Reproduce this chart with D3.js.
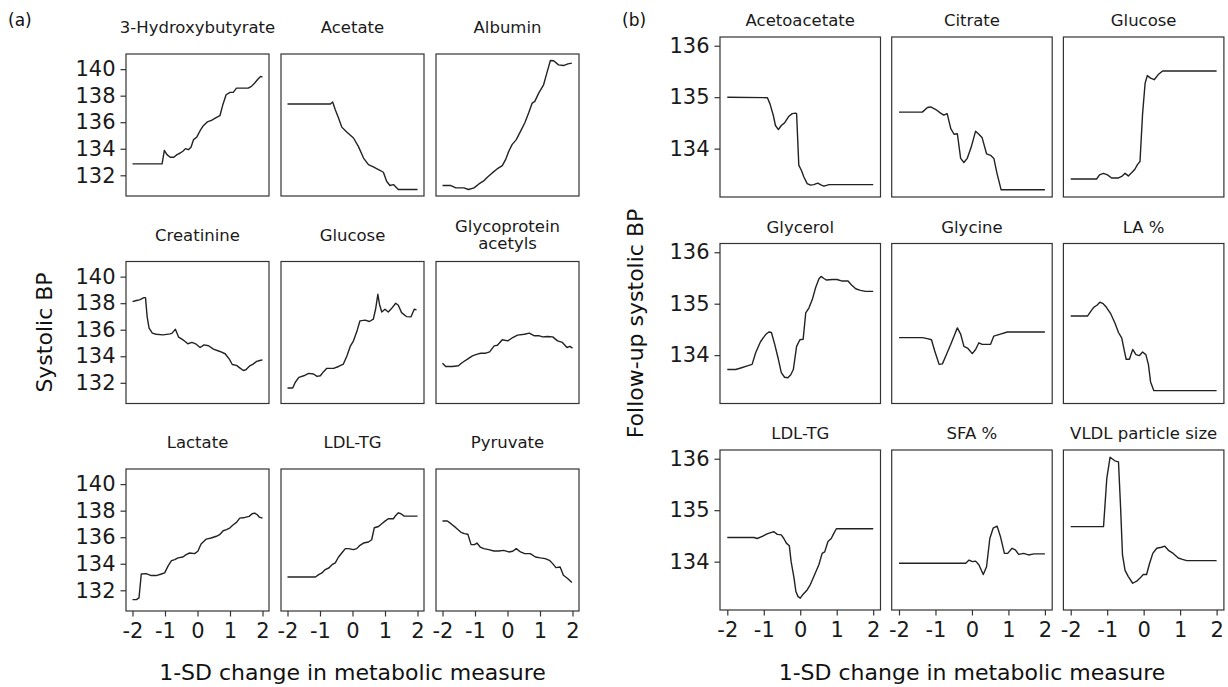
<!DOCTYPE html>
<html>
<head>
<meta charset="utf-8">
<script src="https://cdn.jsdelivr.net/npm/d3@7"></script>
<style>
  html, body { margin: 0; padding: 0; background: #fff; }
  svg text { font-family: "DejaVu Sans", sans-serif; }
</style>
</head>
<body>
<svg id="chart" width="1228" height="687"></svg>
<script>
// ---------------- DATA ----------------
const xTicks = [-2, -1, 0, 1, 2];
const yTicksA = [132, 134, 136, 138, 140];
const yTicksB = [134, 135, 136];

const facetsA = ["3-Hydroxybutyrate", "Acetate", "Albumin", "Creatinine", "Glucose", "Glycoprotein\nacetyls", "Lactate", "LDL-TG", "Pyruvate"];
const facetsB = ["Acetoacetate", "Citrate", "Glucose", "Glycerol", "Glycine", "LA %", "LDL-TG", "SFA %", "VLDL particle size"];

// Panel (a) series: [x, systolic BP]
const a_hydroxybutyrate = [[-2,132.86],[-1.09,132.86],[-1.02,133.88],[-0.94,133.56],[-0.84,133.36],[-0.73,133.36],[-0.63,133.56],[-0.53,133.68],[-0.45,133.81],[-0.37,134.01],[-0.28,133.93],[-0.2,134.11],[-0.12,134.69],[-0.02,134.89],[0.08,135.36],[0.18,135.74],[0.3,136.02],[0.43,136.14],[0.56,136.32],[0.69,136.49],[0.78,137.32],[0.88,138.07],[1.0,138.25],[1.1,138.25],[1.2,138.57],[1.41,138.57],[1.56,138.57],[1.66,138.7],[1.76,138.95],[1.87,139.27],[1.94,139.45],[2.0,139.4]];
const a_acetate = [[-2,137.37],[-0.68,137.37],[-0.61,137.52],[-0.53,136.94],[-0.43,136.31],[-0.33,135.63],[-0.17,135.24],[0.03,134.81],[0.18,134.18],[0.34,133.3],[0.49,132.8],[0.64,132.63],[0.8,132.43],[0.95,132.23],[1.05,131.55],[1.15,131.23],[1.26,131.3],[1.41,130.93],[2.0,130.93]];
const a_albumin = [[-2,131.23],[-1.74,131.23],[-1.59,131.05],[-1.34,131.05],[-1.2,130.93],[-1.03,131.05],[-0.88,131.35],[-0.72,131.6],[-0.62,131.85],[-0.47,132.18],[-0.32,132.48],[-0.16,132.73],[-0.06,133.18],[0.04,133.81],[0.14,134.31],[0.27,134.69],[0.4,135.31],[0.53,135.94],[0.65,136.69],[0.76,137.44],[0.84,137.57],[0.96,138.19],[1.11,138.82],[1.21,139.7],[1.32,140.65],[1.42,140.63],[1.57,140.32],[1.72,140.27],[1.86,140.4],[1.98,140.45]];
const a_creatinine = [[-2,138.12],[-1.88,138.2],[-1.78,138.25],[-1.65,138.42],[-1.6,138.42],[-1.55,136.99],[-1.49,136.12],[-1.39,135.74],[-1.27,135.66],[-1.06,135.61],[-0.84,135.69],[-0.78,135.74],[-0.68,136.04],[-0.58,135.44],[-0.48,135.29],[-0.38,135.11],[-0.3,134.94],[-0.17,135.04],[-0.04,134.91],[0.08,134.66],[0.2,134.86],[0.34,134.79],[0.49,134.54],[0.69,134.36],[0.85,134.19],[0.98,133.78],[1.07,133.38],[1.2,133.31],[1.31,133.11],[1.41,132.93],[1.49,132.98],[1.61,133.28],[1.71,133.41],[1.82,133.61],[1.92,133.68],[2.0,133.73]];
const a_glucose = [[-2,131.61],[-1.84,131.61],[-1.76,132.04],[-1.65,132.41],[-1.5,132.53],[-1.35,132.71],[-1.2,132.66],[-1.09,132.48],[-0.99,132.53],[-0.89,132.84],[-0.79,133.09],[-0.58,133.09],[-0.43,133.23],[-0.28,133.41],[-0.17,134.04],[-0.07,134.74],[0.03,135.16],[0.13,135.84],[0.23,136.67],[0.39,136.72],[0.52,136.62],[0.64,136.79],[0.71,137.54],[0.78,138.67],[0.83,137.92],[0.9,137.34],[1.0,137.54],[1.1,137.34],[1.2,137.59],[1.33,137.99],[1.41,137.84],[1.51,137.29],[1.66,136.99],[1.8,136.97],[1.9,137.54],[1.97,137.49]];
const a_glycoprotein = [[-2,133.48],[-1.9,133.23],[-1.69,133.23],[-1.51,133.28],[-1.39,133.53],[-1.23,133.78],[-1.08,134.03],[-0.93,134.16],[-0.82,134.23],[-0.67,134.23],[-0.55,134.33],[-0.41,134.78],[-0.31,134.83],[-0.16,135.24],[0.01,135.16],[0.16,135.41],[0.31,135.59],[0.52,135.66],[0.67,135.74],[0.83,135.54],[0.98,135.54],[1.08,135.46],[1.23,135.49],[1.39,135.46],[1.54,135.16],[1.69,135.04],[1.83,134.66],[1.92,134.74],[2.0,134.61]];
const a_lactate = [[-2,131.3],[-1.88,131.3],[-1.8,131.43],[-1.73,133.23],[-1.58,133.26],[-1.42,133.11],[-1.27,133.11],[-1.11,133.23],[-1.01,133.31],[-0.9,133.86],[-0.8,134.23],[-0.7,134.31],[-0.6,134.44],[-0.45,134.51],[-0.35,134.69],[-0.24,134.81],[-0.09,134.76],[0.01,134.94],[0.11,135.49],[0.27,135.86],[0.42,135.94],[0.58,136.07],[0.68,136.19],[0.79,136.49],[0.89,136.57],[0.99,136.69],[1.1,136.94],[1.2,137.12],[1.3,137.44],[1.46,137.49],[1.59,137.57],[1.68,137.77],[1.76,137.82],[1.84,137.69],[1.9,137.52],[2.0,137.44]];
const a_ldltg = [[-2,133.0],[-1.14,133.0],[-1.04,133.18],[-0.94,133.31],[-0.84,133.56],[-0.73,133.68],[-0.63,133.93],[-0.53,134.06],[-0.43,134.51],[-0.33,134.81],[-0.22,135.14],[-0.12,135.14],[0.03,135.06],[0.13,135.14],[0.23,135.39],[0.34,135.56],[0.49,135.64],[0.59,135.81],[0.67,136.71],[0.8,136.81],[0.9,137.01],[1.0,137.21],[1.1,137.39],[1.26,137.39],[1.33,137.64],[1.41,137.84],[1.49,137.77],[1.59,137.59],[1.71,137.59],[2.0,137.59]];
const a_pyruvate = [[-2,137.22],[-1.85,137.22],[-1.74,137.02],[-1.59,136.72],[-1.44,136.39],[-1.33,136.27],[-1.22,136.22],[-1.12,135.44],[-1.02,135.44],[-0.94,135.56],[-0.84,135.26],[-0.73,135.14],[-0.58,135.06],[-0.42,134.96],[-0.27,134.96],[-0.12,135.01],[0.04,134.89],[0.16,134.94],[0.27,135.14],[0.4,134.89],[0.53,134.76],[0.7,134.76],[0.86,134.51],[1.01,134.44],[1.16,134.39],[1.29,134.26],[1.39,134.01],[1.49,133.71],[1.62,133.76],[1.72,133.13],[1.83,132.93],[1.91,132.76],[1.98,132.58]];

// Panel (b) series: [x, follow-up systolic BP]
const b_acetoacetate = [[-2,135.0],[-0.9,134.99],[-0.83,134.87],[-0.74,134.65],[-0.68,134.45],[-0.6,134.37],[-0.52,134.45],[-0.43,134.5],[-0.31,134.63],[-0.22,134.68],[-0.13,134.69],[-0.1,134.68],[-0.04,133.68],[0.03,133.58],[0.1,133.45],[0.19,133.32],[0.28,133.29],[0.37,133.3],[0.48,133.33],[0.58,133.29],[0.65,133.27],[0.79,133.3],[1.2,133.3],[2.0,133.3]];
const b_citrate = [[-2,134.71],[-1.36,134.71],[-1.22,134.8],[-1.13,134.81],[-0.99,134.76],[-0.86,134.69],[-0.77,134.65],[-0.68,134.68],[-0.58,134.39],[-0.49,134.28],[-0.4,134.29],[-0.31,133.81],[-0.22,133.73],[-0.13,133.81],[-0.02,134.03],[0.1,134.34],[0.19,134.28],[0.28,134.21],[0.4,133.9],[0.51,133.87],[0.6,133.81],[0.69,133.51],[0.8,133.2],[2.0,133.2]];
const b_glucose = [[-2,133.41],[-1.29,133.41],[-1.21,133.49],[-1.1,133.52],[-0.99,133.49],[-0.88,133.43],[-0.69,133.43],[-0.6,133.46],[-0.51,133.52],[-0.42,133.47],[-0.33,133.53],[-0.24,133.6],[-0.17,133.69],[-0.1,133.75],[-0.03,134.67],[0.04,135.27],[0.1,135.42],[0.19,135.37],[0.29,135.34],[0.4,135.44],[0.52,135.51],[2.0,135.51]];
const b_glycerol = [[-2,133.72],[-1.77,133.72],[-1.63,133.75],[-1.45,133.79],[-1.32,133.82],[-1.22,134.05],[-1.09,134.26],[-0.95,134.4],[-0.86,134.45],[-0.79,134.44],[-0.7,134.21],[-0.61,133.95],[-0.52,133.66],[-0.43,133.57],[-0.34,133.56],[-0.26,133.62],[-0.19,133.72],[-0.1,134.17],[-0.01,134.3],[0.08,134.31],[0.15,134.82],[0.24,134.92],[0.33,135.08],[0.42,135.31],[0.51,135.48],[0.57,135.53],[0.65,135.49],[0.72,135.46],[0.88,135.47],[1.01,135.47],[1.15,135.44],[1.31,135.44],[1.4,135.37],[1.52,135.29],[1.65,135.26],[1.79,135.24],[2.0,135.24]];
const b_glycine = [[-2,134.34],[-1.36,134.34],[-1.22,134.32],[-1.11,134.3],[-1.02,134.08],[-0.9,133.82],[-0.81,133.83],[-0.72,133.98],[-0.58,134.21],[-0.49,134.37],[-0.4,134.53],[-0.31,134.41],[-0.22,134.17],[-0.11,134.13],[0.01,134.03],[0.1,134.11],[0.19,134.24],[0.28,134.21],[0.42,134.21],[0.51,134.21],[0.6,134.37],[0.78,134.41],[0.97,134.45],[2.0,134.45]];
const b_la = [[-2,134.76],[-1.54,134.76],[-1.45,134.85],[-1.37,134.93],[-1.28,134.97],[-1.2,135.03],[-1.11,135.0],[-1.02,134.93],[-0.9,134.8],[-0.79,134.63],[-0.69,134.44],[-0.6,134.33],[-0.54,134.12],[-0.48,133.92],[-0.39,133.92],[-0.3,134.11],[-0.21,134.01],[-0.12,133.99],[-0.03,134.06],[0.06,134.01],[0.13,133.82],[0.19,133.48],[0.28,133.31],[2.0,133.31]];
const b_ldltg = [[-2,134.47],[-1.27,134.47],[-1.18,134.45],[-1.04,134.49],[-0.91,134.54],[-0.79,134.57],[-0.72,134.58],[-0.63,134.53],[-0.52,134.52],[-0.45,134.45],[-0.38,134.36],[-0.3,134.31],[-0.25,134.0],[-0.17,133.68],[-0.12,133.42],[-0.06,133.32],[0.0,133.29],[0.06,133.35],[0.19,133.45],[0.28,133.56],[0.39,133.74],[0.51,133.94],[0.6,134.16],[0.67,134.19],[0.76,134.39],[0.85,134.45],[0.92,134.55],[0.99,134.64],[1.38,134.64],[2.0,134.64]];
const b_sfa = [[-2,133.97],[-0.17,133.97],[-0.08,134.03],[0.01,134.0],[0.1,134.01],[0.19,133.94],[0.31,133.75],[0.4,133.9],[0.49,134.45],[0.58,134.65],[0.69,134.69],[0.78,134.49],[0.89,134.16],[0.98,134.16],[1.1,134.26],[1.19,134.23],[1.28,134.14],[1.42,134.16],[1.55,134.13],[1.7,134.15],[2.0,134.15]];
const b_vldl = [[-2,134.68],[-1.1,134.68],[-1.01,135.62],[-0.92,136.03],[-0.79,135.96],[-0.69,135.94],[-0.63,135.02],[-0.58,134.13],[-0.51,133.83],[-0.42,133.71],[-0.3,133.58],[-0.19,133.62],[-0.1,133.68],[-0.01,133.75],[0.08,133.75],[0.16,133.96],[0.25,134.16],[0.36,134.26],[0.49,134.28],[0.58,134.3],[0.68,134.22],[0.81,134.16],[0.95,134.07],[1.04,134.05],[1.18,134.02],[2.0,134.02]];

const seriesA = [a_hydroxybutyrate, a_acetate, a_albumin, a_creatinine, a_glucose, a_glycoprotein, a_lactate, a_ldltg, a_pyruvate];
const seriesB = [b_acetoacetate, b_citrate, b_glucose, b_glycerol, b_glycine, b_la, b_ldltg, b_sfa, b_vldl];

// ---------------- LAYOUT ----------------
const svg = d3.select("#chart");
const ink = "#1a1a1a";
const frame = "#333333";

function drawPanel(cfg) {
  const x = d3.scaleLinear().domain([-2.2, 2.2]).range([0, cfg.w]);
  const y = d3.scaleLinear().domain(cfg.yDomain).range([cfg.h, 0]);
  const line = d3.line().x(d => x(d[0])).y(d => y(d[1]));

  cfg.facets.forEach((name, i) => {
    const col = i % 3, row = Math.floor(i / 3);
    const gx = cfg.left + col * cfg.colStep;
    const gy = cfg.top + row * cfg.rowStep;
    const g = svg.append("g").attr("transform", `translate(${gx},${gy})`);

    // strip label
    const lines = name.split("\n");
    const lh = 17;
    const t = g.append("text")
      .attr("x", cfg.w / 2)
      .attr("text-anchor", "middle")
      .attr("font-size", cfg.stripSize)
      .attr("fill", ink);
    lines.forEach((ln, k) => {
      t.append("tspan")
        .attr("x", cfg.w / 2)
        .attr("y", -cfg.stripOffset + (k - (lines.length - 1) / 2) * lh)
        .attr("dy", "0.35em")
        .text(ln);
    });

    // curve
    g.append("path")
      .datum(cfg.series[i])
      .attr("fill", "none")
      .attr("stroke", "#222")
      .attr("stroke-width", 1.4)
      .attr("stroke-linejoin", "round")
      .attr("d", line);

    // border
    g.append("rect")
      .attr("x", 0).attr("y", 0)
      .attr("width", cfg.w).attr("height", cfg.h)
      .attr("fill", "none")
      .attr("stroke", frame)
      .attr("stroke-width", 1.2);

    if (col === 0) {
      const ax = g.append("g")
        .call(d3.axisLeft(y).tickValues(cfg.yTicks).tickSize(5.5).tickPadding(5).tickFormat(d3.format("d")));
      ax.select(".domain").remove();
      ax.selectAll(".tick line").attr("stroke", frame).attr("stroke-width", 1.2);
      ax.selectAll(".tick text").attr("font-size", 21).attr("fill", ink).attr("font-family", "DejaVu Sans");
    }
    if (row === 2) {
      const ax = g.append("g")
        .attr("transform", `translate(0,${cfg.h})`)
        .call(d3.axisBottom(x).tickValues(xTicks).tickSize(5.5).tickPadding(7).tickFormat(d3.format("d")));
      ax.select(".domain").remove();
      ax.selectAll(".tick line").attr("stroke", frame).attr("stroke-width", 1.2);
      ax.selectAll(".tick text").attr("font-size", 21).attr("fill", ink).attr("font-family", "DejaVu Sans")
        .text(d => d < 0 ? "-" + Math.abs(d) : d);
    }
  });

  // axis titles
  const plotLeft = cfg.left, plotRight = cfg.left + 2 * cfg.colStep + cfg.w;
  svg.append("text")
    .attr("x", (plotLeft + plotRight) / 2)
    .attr("y", 680)
    .attr("text-anchor", "middle")
    .attr("font-size", 22)
    .attr("fill", "#111")
    .text("1-SD change in metabolic measure");

  const midY = cfg.top + (2 * cfg.rowStep + cfg.h) / 2;
  svg.append("text")
    .attr("transform", `translate(${cfg.yTitleX},${midY}) rotate(-90)`)
    .attr("text-anchor", "middle")
    .attr("dy", "0.35em")
    .attr("font-size", 22)
    .attr("fill", "#111")
    .text(cfg.yTitle);

  svg.append("text")
    .attr("x", cfg.tagX).attr("y", 26)
    .attr("font-size", 17)
    .attr("fill", "#111")
    .text(cfg.tag);
}

drawPanel({
  facets: facetsA, series: seriesA, yTicks: yTicksA,
  yDomain: [130.44, 141.14],
  left: 126, top: 54, colStep: 155, rowStep: 207.5, w: 143, h: 142,
  stripOffset: 26.5, stripSize: 16.5,
  yTitle: "Systolic BP", yTitleX: 44, tag: "(a)", tagX: 8
});

drawPanel({
  facets: facetsB, series: seriesB, yTicks: yTicksB,
  yDomain: [133.06, 136.17],
  left: 720, top: 37, colStep: 171.7, rowStep: 206.5, w: 160.5, h: 160,
  stripOffset: 16.5, stripSize: 16.5,
  yTitle: "Follow-up systolic BP", yTitleX: 635, tag: "(b)", tagX: 622
});
</script>
</body>
</html>
